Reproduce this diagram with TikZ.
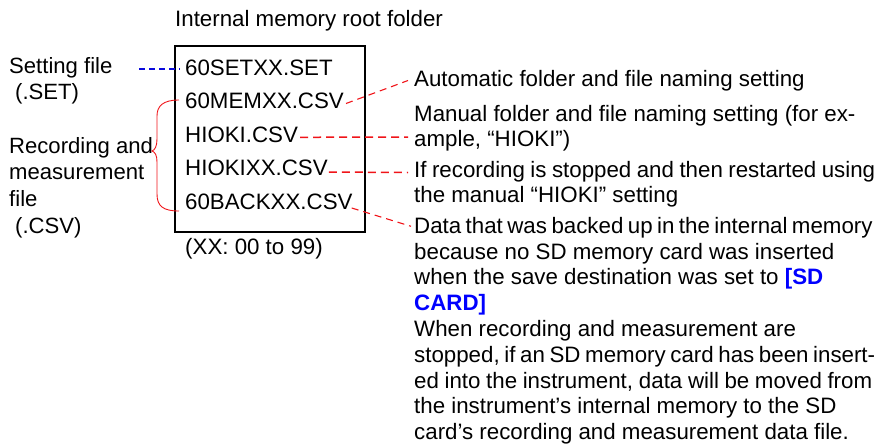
\documentclass[tikz,border=0pt]{standalone}
\usepackage{fontspec}
\setmainfont{Liberation Sans}
\definecolor{hred}{RGB}{240,20,25}
\definecolor{hblue}{RGB}{10,10,220}
\definecolor{sdblue}{RGB}{0,0,255}
\newcommand\jline[2]{{\spaceskip=0.2em plus 1fil\relax\makebox[#1][s]{#2}}}
\begin{document}
\begin{tikzpicture}[x=1pt,y=-1pt,
  lbl/.style={anchor=base west, inner sep=0pt, font=\fontsize{22.3}{25.8}\selectfont},
  leftlbl/.style={anchor=base west, inner sep=0pt, font=\fontsize{22.1}{26.8}\selectfont},
  reddash/.style={draw=hred, line width=1.1pt, dash pattern=on 7pt off 5pt},
  redhdash/.style={draw=hred, line width=1.5pt, dash pattern=on 8pt off 5pt},
  bluedash/.style={draw=hblue, line width=1.3pt, dash pattern=on 6pt off 4pt},
  folder/.style={draw, line width=1.8pt, anchor=north west, inner sep=0pt, minimum width=190pt, minimum height=186pt}]
\useasboundingbox (0,0) rectangle (879,445);

% title and box
\node[lbl] (title) at (175,26) {Internal memory root folder};
\node[folder] (root) at (174,45) {};
\node[lbl] (range) at (185,254) {(XX: 00 to 99)};

% files
\node[lbl] (set)  at (185,75)  {60SETXX.SET};
\node[lbl] (mem)  at (185,108.5) {60MEMXX.CSV};
\node[lbl] (hioki) at (185,142) {HIOKI.CSV};
\node[lbl] (hiokixx) at (185,175.5) {HIOKIXX.CSV};
\node[lbl] (back) at (185,209.5) {60BACKXX.CSV};

% left labels
\node[leftlbl] (setlbl) at (9,73) {\parbox[t]{140pt}{\raggedright Setting file\\\hspace*{6pt}(.SET)}};
\node[leftlbl] (reclbl) at (9,153) {\parbox[t]{146pt}{\raggedright Recording and\\measurement\\file\\\hspace*{6pt}(.CSV)}};

% right descriptions
\node[lbl] (auto) at (414,86.5) {Automatic folder and file naming setting};
\node[lbl] (manual) at (414,121) {\parbox[t]{520pt}{\raggedright Manual folder and file naming setting (for ex-\\ample, “HIOKI”)}};
\node[lbl] (restart) at (414,177) {\parbox[t]{520pt}{\raggedright \jline{461pt}{If recording is stopped and then restarted using}\\the manual “HIOKI” setting}};
\node[lbl] (backup) at (414,233.3) {\parbox[t]{520pt}{\raggedright
\jline{458pt}{Data that was backed up in the internal memory}\\
because no SD memory card was inserted\\
when the save destination was set to \textcolor{sdblue}{\textbf{[SD}}\\
\textcolor{sdblue}{\textbf{CARD]}}\\
When recording and measurement are\\
\jline{461pt}{stopped, if an SD memory card has been insert-}\\
\jline{458pt}{ed into the instrument, data will be moved from}\\
the instrument’s internal memory to the SD\\
card’s recording and measurement data file.}};

% connectors
\draw[bluedash] ([shift={(130pt,4pt)}]setlbl.base west) -- ([shift={(-5pt,6pt)}]set.base west);
\draw[reddash] ([shift={(2pt,5pt)}]mem.base east) -- ([shift={(-6pt,6pt)}]auto.base west);
\draw[redhdash] ([shift={(2pt,4.7pt)}]hioki.base east) -- ([shift={(-6pt,-16pt)}]manual.base west);
\draw[redhdash] ([shift={(1pt,3.5pt)}]hiokixx.base east) -- ([shift={(-6pt,4.5pt)}]restart.base west);
\draw[reddash] ([shift={(-1pt,1.5pt)}]back.base east) -- ([shift={(-3pt,7pt)}]backup.base west);

% brace
\draw[hred, line width=0.9pt] ([shift={(-6pt,8.5pt)}]mem.base west)
  .. controls (163,100) and (157,106) .. (157,116) -- (157,139)
  .. controls (157,146) and (155,150) .. (152,151)
  .. controls (155,152) and (157,155) .. (157,162) -- (157,194)
  .. controls (157,206) and (163,211) .. ([shift={(-6pt,-1.5pt)}]back.base west);
\end{tikzpicture}
\end{document}
